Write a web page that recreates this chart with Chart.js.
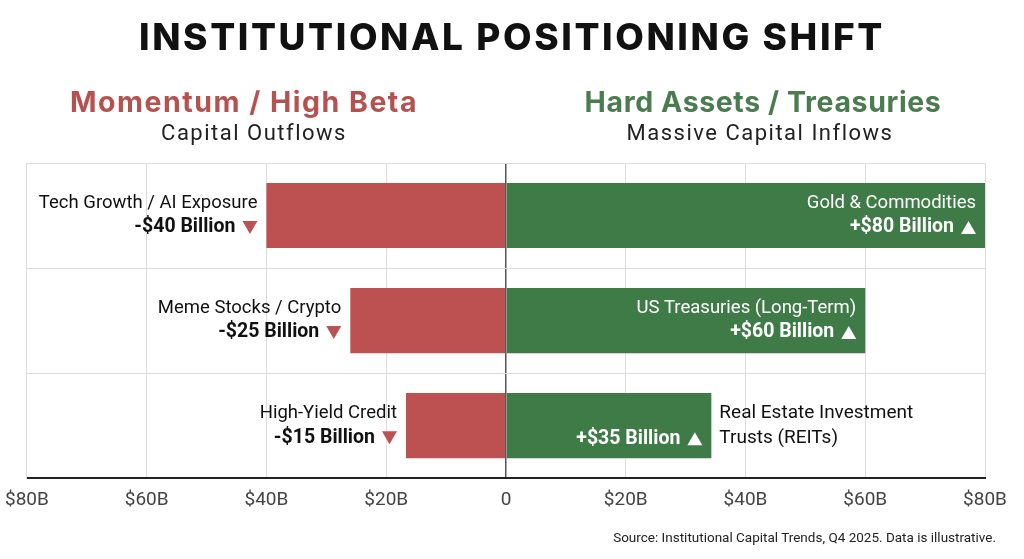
<!DOCTYPE html>
<html>
<head>
<meta charset="utf-8">
<script src="https://cdn.jsdelivr.net/npm/chart.js@4.4.1/dist/chart.umd.min.js"></script>
<style>
  html, body { margin: 0; padding: 0; background: #fff; }
  body { width: 1024px; height: 559px; position: relative; overflow: hidden; font-family: Roboto, "Noto Sans", sans-serif; }
  #wrap { position: absolute; left: -6px; top: 0; width: 1030px; height: 559px; }
  .t { position: absolute; white-space: nowrap; transform: translate(-50%, -50%); }
  #title { left: 512px; top: 36px; font-family: Inter, sans-serif; font-weight: 800; font-size: 37px; letter-spacing: 2.6px; color: #111; }
  .head { font-family: Inter, sans-serif; font-weight: 700; font-size: 28.5px; letter-spacing: 0.6px; }
  .sub { font-size: 22px; letter-spacing: 1.5px; color: #222; }
  #source { position: absolute; right: 28px; top: 529px; font-size: 13.5px; color: #222; }
</style>
</head>
<body>
<div id="wrap"><canvas id="chart"></canvas></div>
<div class="t" id="title">INSTITUTIONAL POSITIONING SHIFT</div>
<div class="t head" style="left:244px; top:101px; color:#b5514f; letter-spacing:1.5px;">Momentum / High Beta</div>
<div class="t sub" style="left:254px; top:132px;">Capital Outflows</div>
<div class="t head" style="left:763px; top:101px; color:#4b7c4f;">Hard Assets / Treasuries</div>
<div class="t sub" style="left:760px; top:132px;">Massive Capital Inflows</div>
<div id="source">Source: Institutional Capital Trends, Q4 2025. Data is illustrative.</div>

<script>
// rows, top to bottom
const rows = ['row1', 'row2', 'row3'];

// outflows (left side)
const outflowNames = ['Tech Growth / AI Exposure', 'Meme Stocks / Crypto', 'High-Yield Credit'];
const outflowValues = [-40, -26, -16.7];
const outflowLabels = ['-$40 Billion', '-$25 Billion', '-$15 Billion'];

// inflows (right side)
const inflowNames = [['Gold & Commodities'], ['US Treasuries (Long-Term)'], ['Real Estate Investment', 'Trusts (REITs)']];
const inflowValues = [80, 60, 34.3];
const inflowLabels = ['+$80 Billion', '+$60 Billion', '+$35 Billion'];

const xTicks = [-80, -60, -40, -20, 0, 20, 40, 60, 80];

const RED = '#bd5151';
const GREEN = '#3f7b47';

function triangle(ctx, x, y, up, color) {
  // x = left edge, y = vertical centre
  const w = 15, h = 13;
  ctx.beginPath();
  if (up) {
    ctx.moveTo(x, y + h / 2);
    ctx.lineTo(x + w, y + h / 2);
    ctx.lineTo(x + w / 2, y - h / 2);
  } else {
    ctx.moveTo(x, y - h / 2);
    ctx.lineTo(x + w, y - h / 2);
    ctx.lineTo(x + w / 2, y + h / 2);
  }
  ctx.closePath();
  ctx.fillStyle = color;
  ctx.fill();
}

// bold amount + arrow, right aligned at xr
function amountLine(ctx, text, xr, y, up, textColor, triColor) {
  ctx.font = 'bold 19.5px Roboto';
  ctx.textAlign = 'right';
  ctx.fillStyle = textColor;
  ctx.fillText(text, xr - 22, y);
  triangle(ctx, xr - 15, y, up, triColor);
}

const labelPlugin = {
  id: 'barLabels',
  afterDatasetsDraw(chart) {
    const ctx = chart.ctx;
    const neg = chart.getDatasetMeta(0).data;
    const pos = chart.getDatasetMeta(1).data;
    ctx.save();
    ctx.textBaseline = 'middle';
    rows.forEach((r, i) => {
      const nb = neg[i], pb = pos[i];
      const cy = nb.y;
      // left labels, outside bar
      const xl = nb.x - 9;
      ctx.font = '18.5px Roboto';
      ctx.textAlign = 'right';
      ctx.fillStyle = '#111';
      ctx.fillText(outflowNames[i], xl, cy - 12);
      amountLine(ctx, outflowLabels[i], xl, cy + 12, false, '#111', RED);

      // right labels
      const xr = pb.x - 9;
      const names = inflowNames[i];
      if (names.length === 1) {
        ctx.font = '18.5px Roboto';
        ctx.textAlign = 'right';
        ctx.fillStyle = '#fff';
        ctx.fillText(names[0], xr, cy - 12);
        amountLine(ctx, inflowLabels[i], xr, cy + 12, true, '#fff', '#fff');
      } else {
        amountLine(ctx, inflowLabels[i], xr, cy + 13, true, '#fff', '#fff');
        ctx.font = '19px Roboto';
        ctx.textAlign = 'left';
        ctx.fillStyle = '#111';
        ctx.fillText(names[0], pb.x + 8, cy - 12);
        ctx.fillText(names[1], pb.x + 8, cy + 13);
      }
    });
    ctx.restore();
  }
};

new Chart(document.getElementById('chart'), {
  type: 'bar',
  data: {
    labels: rows,
    datasets: [
      { data: outflowValues, backgroundColor: RED, categoryPercentage: 1, barPercentage: 0.62 },
      { data: inflowValues, backgroundColor: GREEN, categoryPercentage: 1, barPercentage: 0.62 }
    ]
  },
  options: {
    indexAxis: 'y',
    responsive: true,
    maintainAspectRatio: false,
    animation: false,
    layout: { padding: { top: 163, left: 0, right: 39, bottom: 36 } },
    plugins: { legend: { display: false }, tooltip: { enabled: false } },
    scales: {
      x: {
        min: -80, max: 80,
        afterBuildTicks: (axis) => { axis.ticks = xTicks.map(v => ({ value: v })); },
        ticks: {
          font: { family: 'Roboto', size: 19 },
          color: '#444',
          padding: 11,
          callback: (v) => v === 0 ? '0' : '$' + Math.abs(v) + 'B'
        },
        grid: {
          drawTicks: false,
          color: (c) => c.tick && c.tick.value === 0 ? '#555' : '#dcdcdc',
          lineWidth: (c) => c.tick && c.tick.value === 0 ? 1.5 : 1
        },
        border: { display: true, color: '#222', width: 2 }
      },
      y: {
        stacked: true,
        ticks: { display: false },
        grid: { offset: true, drawTicks: false, color: '#dcdcdc' },
        border: { display: true, color: '#dcdcdc' }
      }
    }
  },
  plugins: [labelPlugin]
});
</script>
</body>
</html>
